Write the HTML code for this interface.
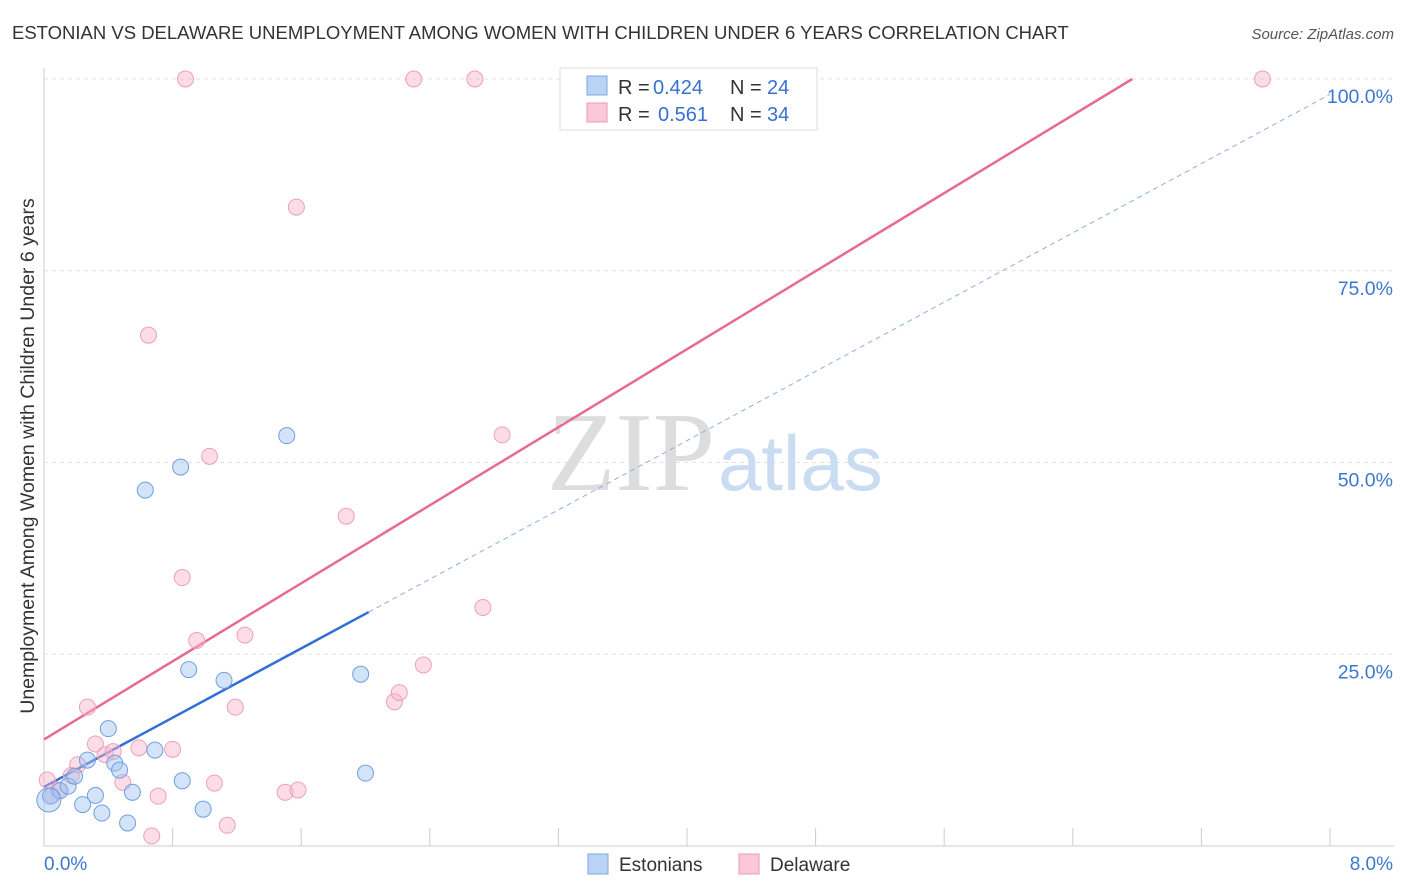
<!DOCTYPE html>
<html><head><meta charset="utf-8"><style>
body{margin:0;background:#fff;font-family:"Liberation Sans",sans-serif;}
svg{display:block}
</style></head><body>
<svg id="c" width="1406" height="892">
<text x="12" y="39" font-size="18.5" fill="#333">ESTONIAN VS DELAWARE UNEMPLOYMENT AMONG WOMEN WITH CHILDREN UNDER 6 YEARS CORRELATION CHART</text>
<text x="1394" y="39" font-size="15" fill="#555" font-style="italic" text-anchor="end">Source: ZipAtlas.com</text>
<text x="0" y="0" transform="translate(34,456) rotate(-90)" font-size="19.5" fill="#333" text-anchor="middle">Unemployment Among Women with Children Under 6 years</text>
<g id="grid"></g>
<text x="715" y="490" font-size="112" fill="#ddd" text-anchor="end" font-family="Liberation Serif,serif">ZIP</text>
<text x="718" y="490" font-size="78" fill="#c9dcf2">atlas</text>
<g id="lines"></g>
<g id="pts"></g>
<g>
<rect x="560" y="68" width="257" height="62" fill="#fff" stroke="#ddd"/>
<rect x="587" y="76" width="20" height="19" fill="#b8d3f4" stroke="#7aa8e0"/>
<text x="618" y="94" font-size="20" fill="#333">R =</text>
<text x="653" y="94" font-size="20" fill="#3572cf">0.424</text>
<text x="730" y="94" font-size="20" fill="#333">N =</text>
<text x="767" y="94" font-size="20" fill="#3572cf">24</text>
<rect x="587" y="103" width="20" height="19" fill="#fbc8d8" stroke="#ee9ab5"/>
<text x="618" y="121" font-size="20" fill="#333">R =</text>
<text x="658" y="121" font-size="20" fill="#3572cf">0.561</text>
<text x="730" y="121" font-size="20" fill="#333">N =</text>
<text x="767" y="121" font-size="20" fill="#3572cf">34</text>
</g>
<g>
<rect x="588" y="854" width="20" height="20" fill="#b8d3f4" stroke="#7aa8e0"/>
<text x="619" y="871" font-size="19" fill="#333">Estonians</text>
<rect x="739" y="854" width="20" height="20" fill="#fbc8d8" stroke="#ee9ab5"/>
<text x="770" y="871" font-size="19" fill="#333">Delaware</text>
</g>
<text x="44" y="870" font-size="19" fill="#3b78d0">0.0%</text>
<text x="1393" y="870" font-size="19" fill="#3b78d0" text-anchor="end">8.0%</text>
</svg>
<script>
const yTicks=[25,50,75,100];
const yTickLabels=["25.0%","50.0%","75.0%","100.0%"];
const xTicks=[0,0.8,1.6,2.4,3.2,4.0,4.8,5.6,6.4,7.2,8.0];
const estX=[0.04,0.1,0.15,0.19,0.24,0.27,0.32,0.36,0.4,0.44,0.47,0.52,0.55,0.63,0.69,0.85,0.86,0.9,0.99,1.12,1.51,1.97,2.0,0.03];
const estY=[6.5,7.2,7.8,9.1,5.4,11.2,6.6,4.3,15.3,10.8,9.9,3.0,7.0,46.4,12.5,49.4,8.5,23.0,4.8,21.6,53.5,22.4,9.5,6.0];
const delX=[0.02,0.05,0.09,0.17,0.21,0.27,0.32,0.38,0.43,0.49,0.59,0.65,0.67,0.71,0.8,0.86,0.88,0.95,1.03,1.06,1.14,1.19,1.25,1.5,1.57,1.58,1.88,2.18,2.21,2.3,2.36,2.68,2.73,2.85,7.58];
const delY=[8.6,6.6,7.3,9.2,10.6,18.1,13.3,11.9,12.3,8.3,12.8,66.6,1.3,6.5,12.6,35.0,100,26.8,50.8,8.2,2.7,18.1,27.5,7.0,83.3,7.3,43.0,18.8,20.0,100,23.6,100,31.1,53.6,100];
const pinkLine=[13.9,100];const pinkEnd=6.77;
const blueLine=[7.7,30.5];const blueEnd=2.02;
const X=v=>44+v*160.75, Y=v=>846-v*7.67;
const ns="http://www.w3.org/2000/svg";
function mk(t,a,p){const e=document.createElementNS(ns,t);for(const k in a)e.setAttribute(k,a[k]);p.appendChild(e);return e;}
const g=document.getElementById('grid');
mk('line',{x1:44,y1:68,x2:44,y2:846,stroke:'#ccc'},g);
mk('line',{x1:44,y1:846,x2:1394,y2:846,stroke:'#ccc'},g);
yTicks.forEach((v,i)=>{const l=mk('line',{x1:44,y1:Y(v),x2:1394,y2:Y(v),stroke:'#e2e2e2','stroke-dasharray':'4,4'},g);


const t=mk('text',{x:1393,y:Y(v)+24,'font-size':19.5,fill:'#3b78d0','text-anchor':'end'},g);t.textContent=yTickLabels[i];

});
xTicks.forEach(v=>{const l=mk('line',{x1:X(v),y1:828,x2:X(v),y2:846,stroke:'#ccc'},g);

});
const L=document.getElementById('lines');
let a=mk('line',{x1:X(0),y1:Y(pinkLine[0]),x2:X(pinkEnd),y2:Y(pinkLine[1]),stroke:'#e86a93','stroke-width':2.5},L);


const bs=(blueLine[1]-blueLine[0])/blueEnd;
a=mk('line',{x1:X(0),y1:Y(blueLine[0]),x2:X(blueEnd),y2:Y(blueLine[1]),stroke:'#2f6fd6','stroke-width':2.5},L);


a=mk('line',{x1:X(blueEnd),y1:Y(blueLine[1]),x2:X(8.0),y2:Y(blueLine[0]+bs*8),stroke:'#8ab0e6','stroke-width':1,'stroke-dasharray':'5,4'},L);


const P=document.getElementById('pts');
delX.forEach((v,i)=>{const c=mk('circle',{cx:X(v),cy:Y(delY[i]),r:8,fill:'rgba(248,180,202,0.45)',stroke:'#eea0ba','stroke-width':1},P);

});
estX.forEach((v,i)=>{const c=mk('circle',{cx:X(v),cy:Y(estY[i]),r:i==23?12:8,fill:'rgba(160,196,240,0.45)',stroke:'#6f9fe0','stroke-width':1},P);

});
</script>
</body></html>
